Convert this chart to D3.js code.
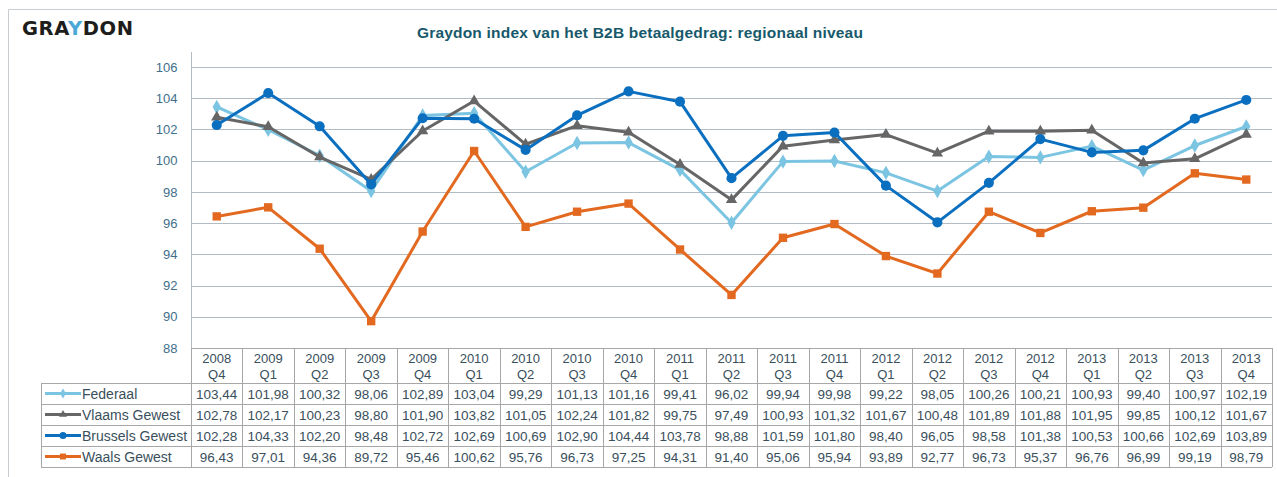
<!DOCTYPE html>
<html>
<head>
<meta charset="utf-8">
<script src="https://cdn.jsdelivr.net/npm/d3@7"></script>
<style>
  body { margin: 0; background: #fff; }
  svg { font-family: "Liberation Sans", Arial, sans-serif; }
</style>
</head>
<body>
<div id="graph"></div>
<script>
// categories (year / quarter)
var years = ["2008","2009","2009","2009","2009","2010","2010","2010","2010","2011","2011","2011","2011","2012","2012","2012","2012","2013","2013","2013","2013"];
var quarters = ["Q4","Q1","Q2","Q3","Q4","Q1","Q2","Q3","Q4","Q1","Q2","Q3","Q4","Q1","Q2","Q3","Q4","Q1","Q2","Q3","Q4"];

var federaal = [103.44,101.98,100.32,98.06,102.89,103.04,99.29,101.13,101.16,99.41,96.02,99.94,99.98,99.22,98.05,100.26,100.21,100.93,99.40,100.97,102.19];
var vlaams = [102.78,102.17,100.23,98.80,101.90,103.82,101.05,102.24,101.82,99.75,97.49,100.93,101.32,101.67,100.48,101.89,101.88,101.95,99.85,100.12,101.67];
var brussels = [102.28,104.33,102.20,98.48,102.72,102.69,100.69,102.90,104.44,103.78,98.88,101.59,101.80,98.40,96.05,98.58,101.38,100.53,100.66,102.69,103.89];
var waals = [96.43,97.01,94.36,89.72,95.46,100.62,95.76,96.73,97.25,94.31,91.40,95.06,95.94,93.89,92.77,96.73,95.37,96.76,96.99,99.19,98.79];

var yTicks = [88,90,92,94,96,98,100,102,104,106];

var series = [
  {name: "Federaal", values: federaal, color: "#7cc5e2", symbol: d3.symbolDiamond, size: 60},
  {name: "Vlaams Gewest", values: vlaams, color: "#666666", symbol: d3.symbolTriangle, size: 55},
  {name: "Brussels Gewest", values: brussels, color: "#0b6fc0", symbol: d3.symbolCircle, size: 80},
  {name: "Waals Gewest", values: waals, color: "#e2691f", symbol: d3.symbolSquare, size: 70}
];

var W = 1277, H = 477;
var plotLeft = 191, plotRight = 1272, plotTop = 67, plotBottom = 348;
var headerH = 35, rowH = 21, legendLeft = 41;
var gridColor = "#b4bcc3", tableColor = "#a7a7a7", textColor = "#3a4f5c";

var cats = years.map(function(y, i) { return y + " " + quarters[i]; });

var x = d3.scaleBand().domain(cats).range([plotLeft, plotRight]);
var y = d3.scaleLinear().domain([88, 106]).range([plotBottom, plotTop]);

var svg = d3.select("#graph").append("svg")
    .attr("width", W).attr("height", H);

// outer frame
svg.append("path")
    .attr("d", "M8.5," + H + "V9.5H" + W)
    .attr("fill", "none").attr("stroke", "#c8cdd1").attr("stroke-width", 1);

// logo
var logo = svg.append("text")
    .attr("x", 22).attr("y", 35)
    .style("font-family", "'DejaVu Sans', sans-serif")
    .style("font-weight", "bold").style("font-size", "19.5px")
    .style("letter-spacing", "0.6px")
    .attr("fill", "#1d1d1b");
logo.append("tspan").text("GRA");
logo.append("tspan").text("Y").attr("fill", "#4aa8d8");
logo.append("tspan").text("DON");

// title
svg.append("text")
    .attr("x", 640).attr("y", 38)
    .attr("text-anchor", "middle")
    .style("font-weight", "bold").style("font-size", "15.5px")
    .style("letter-spacing", "0.2px")
    .attr("fill", "#17596b")
    .text("Graydon index van het B2B betaalgedrag: regionaal niveau");

// gridlines
svg.append("g").selectAll("line")
    .data(yTicks.filter(function(d) { return d > 88; }))
    .enter().append("line")
    .attr("x1", plotLeft).attr("x2", plotRight)
    .attr("y1", function(d) { return Math.round(y(d)) + 0.5; })
    .attr("y2", function(d) { return Math.round(y(d)) + 0.5; })
    .attr("stroke", gridColor).attr("stroke-width", 1);

// y axis
var yAxis = svg.append("g")
    .attr("transform", "translate(" + (plotLeft + 0.5) + ",0)")
    .call(d3.axisLeft(y).tickValues(yTicks).tickSize(0).tickPadding(14));
yAxis.select(".domain").attr("stroke", gridColor).attr("d", "M0," + (plotTop - 15) + "V" + plotBottom);
yAxis.selectAll("text").style("font-size", "13px").style("font-family", "'Liberation Sans', Arial, sans-serif").attr("fill", "#3f6f8c");

// lines
var line = d3.line()
    .x(function(d, i) { return x(cats[i]) + x.bandwidth() / 2; })
    .y(function(d) { return y(d); });

series.forEach(function(s) {
  svg.append("path")
      .attr("d", line(s.values))
      .attr("fill", "none")
      .attr("stroke", s.color)
      .attr("stroke-width", 3)
      .attr("stroke-linejoin", "round");
  svg.append("g").selectAll("path")
      .data(s.values)
      .enter().append("path")
      .attr("transform", function(d, i) {
        return "translate(" + (x(cats[i]) + x.bandwidth() / 2) + "," + y(d) + ")";
      })
      .attr("d", d3.symbol().type(s.symbol).size(s.size))
      .attr("fill", s.color);
});

// data table
var table = svg.append("g");
var tableBottom = plotBottom + headerH + rowH * series.length;

// header column separators
table.selectAll("line.col")
    .data(d3.range(cats.length + 1))
    .enter().append("line")
    .attr("x1", function(i) { return Math.round(plotLeft + i * x.bandwidth()) + 0.5; })
    .attr("x2", function(i) { return Math.round(plotLeft + i * x.bandwidth()) + 0.5; })
    .attr("y1", plotBottom).attr("y2", tableBottom)
    .attr("stroke", tableColor);

// horizontal rules
d3.range(series.length + 1).forEach(function(r) {
  var yy = plotBottom + headerH + r * rowH + 0.5;
  table.append("line")
      .attr("x1", legendLeft).attr("x2", plotRight)
      .attr("y1", yy).attr("y2", yy)
      .attr("stroke", tableColor);
});
table.append("line")
    .attr("x1", plotLeft).attr("x2", plotRight)
    .attr("y1", plotBottom + 0.5).attr("y2", plotBottom + 0.5)
    .attr("stroke", tableColor);
table.append("line")
    .attr("x1", legendLeft + 0.5).attr("x2", legendLeft + 0.5)
    .attr("y1", plotBottom + headerH).attr("y2", tableBottom)
    .attr("stroke", tableColor);

// header labels
cats.forEach(function(c, i) {
  var cx = x(c) + x.bandwidth() / 2;
  var t = table.append("text")
      .attr("x", cx).attr("text-anchor", "middle")
      .style("font-size", "13px").attr("fill", textColor);
  t.append("tspan").attr("x", cx).attr("y", plotBottom + 15).text(years[i]);
  t.append("tspan").attr("x", cx).attr("y", plotBottom + 31).text(quarters[i]);
});

var fmt = d3.formatLocale({decimal: ",", thousands: ".", grouping: [3], currency: ["", ""]}).format(".2f");

series.forEach(function(s, r) {
  var rowTop = plotBottom + headerH + r * rowH;
  var mid = rowTop + rowH / 2;
  // legend key
  table.append("line")
      .attr("x1", 45).attr("x2", 81).attr("y1", mid).attr("y2", mid)
      .attr("stroke", s.color).attr("stroke-width", 3);
  table.append("path")
      .attr("transform", "translate(63," + mid + ")")
      .attr("d", d3.symbol().type(s.symbol).size(s.size * 0.5))
      .attr("fill", s.color);
  table.append("text")
      .attr("x", 82).attr("y", mid + 5)
      .style("font-size", "14px").attr("fill", textColor)
      .text(s.name);
  // values
  table.append("g").selectAll("text")
      .data(s.values)
      .enter().append("text")
      .attr("x", function(d, i) { return x(cats[i]) + x.bandwidth() / 2; })
      .attr("y", mid + 5)
      .attr("text-anchor", "middle")
      .style("font-size", "13.5px").attr("fill", textColor)
      .text(function(d) { return fmt(d); });
});
</script>
</body>
</html>
